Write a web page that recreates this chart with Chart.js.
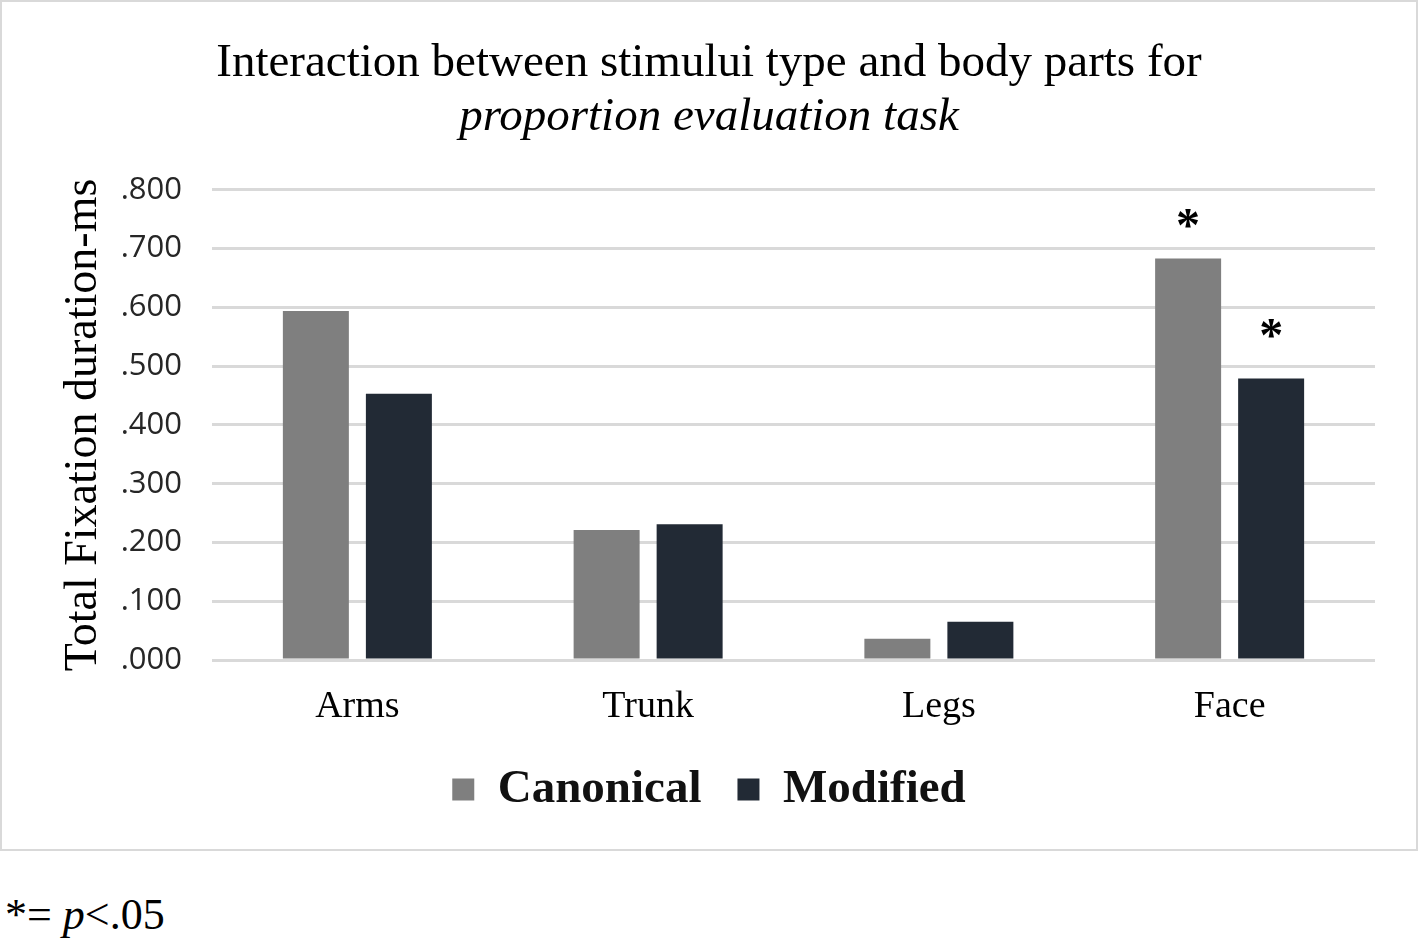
<!DOCTYPE html>
<html>
<head>
<meta charset="utf-8">
<script src="https://cdn.jsdelivr.net/npm/chart.js@4/dist/chart.umd.min.js"></script>
<style>
  body { margin: 0; background: #fff; }
  #box { position: absolute; left: 0; top: 0; width: 1414px; height: 847px; border: 2px solid #d9d9d9; }
  #note { position: absolute; left: 5px; top: 893px; font: 44px "Liberation Serif", serif; line-height: 1; color: #000; }
</style>
</head>
<body>
<div id="box"><canvas id="chart" width="1414" height="847"></canvas></div>
<div id="note">*= <i>p</i>&lt;.05</div>
<script>
// values
const categories = ['Arms', 'Trunk', 'Legs', 'Face'];
const canonical = [0.594, 0.221, 0.036, 0.683];
const modified = [0.453, 0.231, 0.065, 0.479];
// significance marks (p<.05)
const canonicalSig = [false, false, false, true];
const modifiedSig = [false, false, false, true];

const serif = '"Liberation Serif", "Times New Roman", serif';

// draws the "*" above flagged bars
const starPlugin = {
  id: 'stars',
  afterDatasetsDraw(chart) {
    const ctx = chart.ctx;
    const flags = [canonicalSig, modifiedSig];
    const gap = [18, 27];
    ctx.save();
    ctx.font = 'bold 48px ' + serif;
    ctx.fillStyle = '#000';
    ctx.textAlign = 'center';
    ctx.textBaseline = 'alphabetic';
    flags.forEach((sig, i) => {
      const meta = chart.getDatasetMeta(i);
      sig.forEach((on, j) => {
        if (!on) return;
        const bar = meta.data[j];
        ctx.fillText('*', bar.x, bar.y - gap[i]);
      });
    });
    ctx.restore();
  }
};

new Chart(document.getElementById('chart'), {
  type: 'bar',
  data: {
    labels: categories,
    datasets: [
      { label: 'Canonical', data: canonical, backgroundColor: '#7f7f7f', borderWidth: 0 },
      { label: 'Modified', data: modified, backgroundColor: '#222a35', borderWidth: 0 }
    ]
  },
  options: {
    responsive: false,
    animation: false,
    devicePixelRatio: 1,
    categoryPercentage: 0.571,
    barPercentage: 0.795,
    layout: { padding: { left: 0, right: 0, top: 0, bottom: 26 } },
    plugins: {
      title: {
        display: true,
        text: 'Interaction between stimului type and body parts for',
        color: '#000',
        font: { family: serif, size: 47, weight: 'normal' },
        padding: { top: 33, bottom: 0 }
      },
      subtitle: {
        display: true,
        text: 'proportion evaluation task',
        color: '#000',
        font: { family: serif, size: 47, style: 'italic' },
        padding: { top: -2, bottom: 44 }
      },
      legend: {
        position: 'bottom',
        labels: {
          boxWidth: 22,
          boxHeight: 22,
          padding: 36,
          color: '#111',
          font: { family: serif, size: 47, weight: 'bold' }
        }
      },
      tooltip: { enabled: false }
    },
    scales: {
      x: {
        grid: { display: false, drawTicks: false },
        border: { display: false },
        ticks: { color: '#000', padding: 24, font: { family: serif, size: 38 } },
        afterFit(scale) { scale.height = 70; }
      },
      y: {
        min: 0,
        max: 0.8,
        grid: { color: '#d9d9d9', lineWidth: 3, drawTicks: false },
        border: { display: false },
        ticks: {
          stepSize: 0.1,
          padding: 30,
          color: '#262626',
          font: { family: '"Open Sans", sans-serif', size: 31 },
          callback: v => v.toFixed(3).replace(/^0/, '')
        },
        title: {
          display: true,
          text: 'Total Fixation duration-ms',
          color: '#000',
          font: { family: serif, size: 46 },
          padding: { top: 54, bottom: 0 }
        },
        afterFit(scale) { scale.width = 210; }
      },
      // empty right-hand spacer so the title and legend stay centred on the page
      spacer: {
        position: 'right',
        display: true,
        grid: { display: false, drawTicks: false },
        border: { display: false },
        ticks: { display: false },
        afterFit(scale) { scale.width = 41; }
      }
    }
  },
  plugins: [starPlugin]
});
</script>
</body>
</html>
